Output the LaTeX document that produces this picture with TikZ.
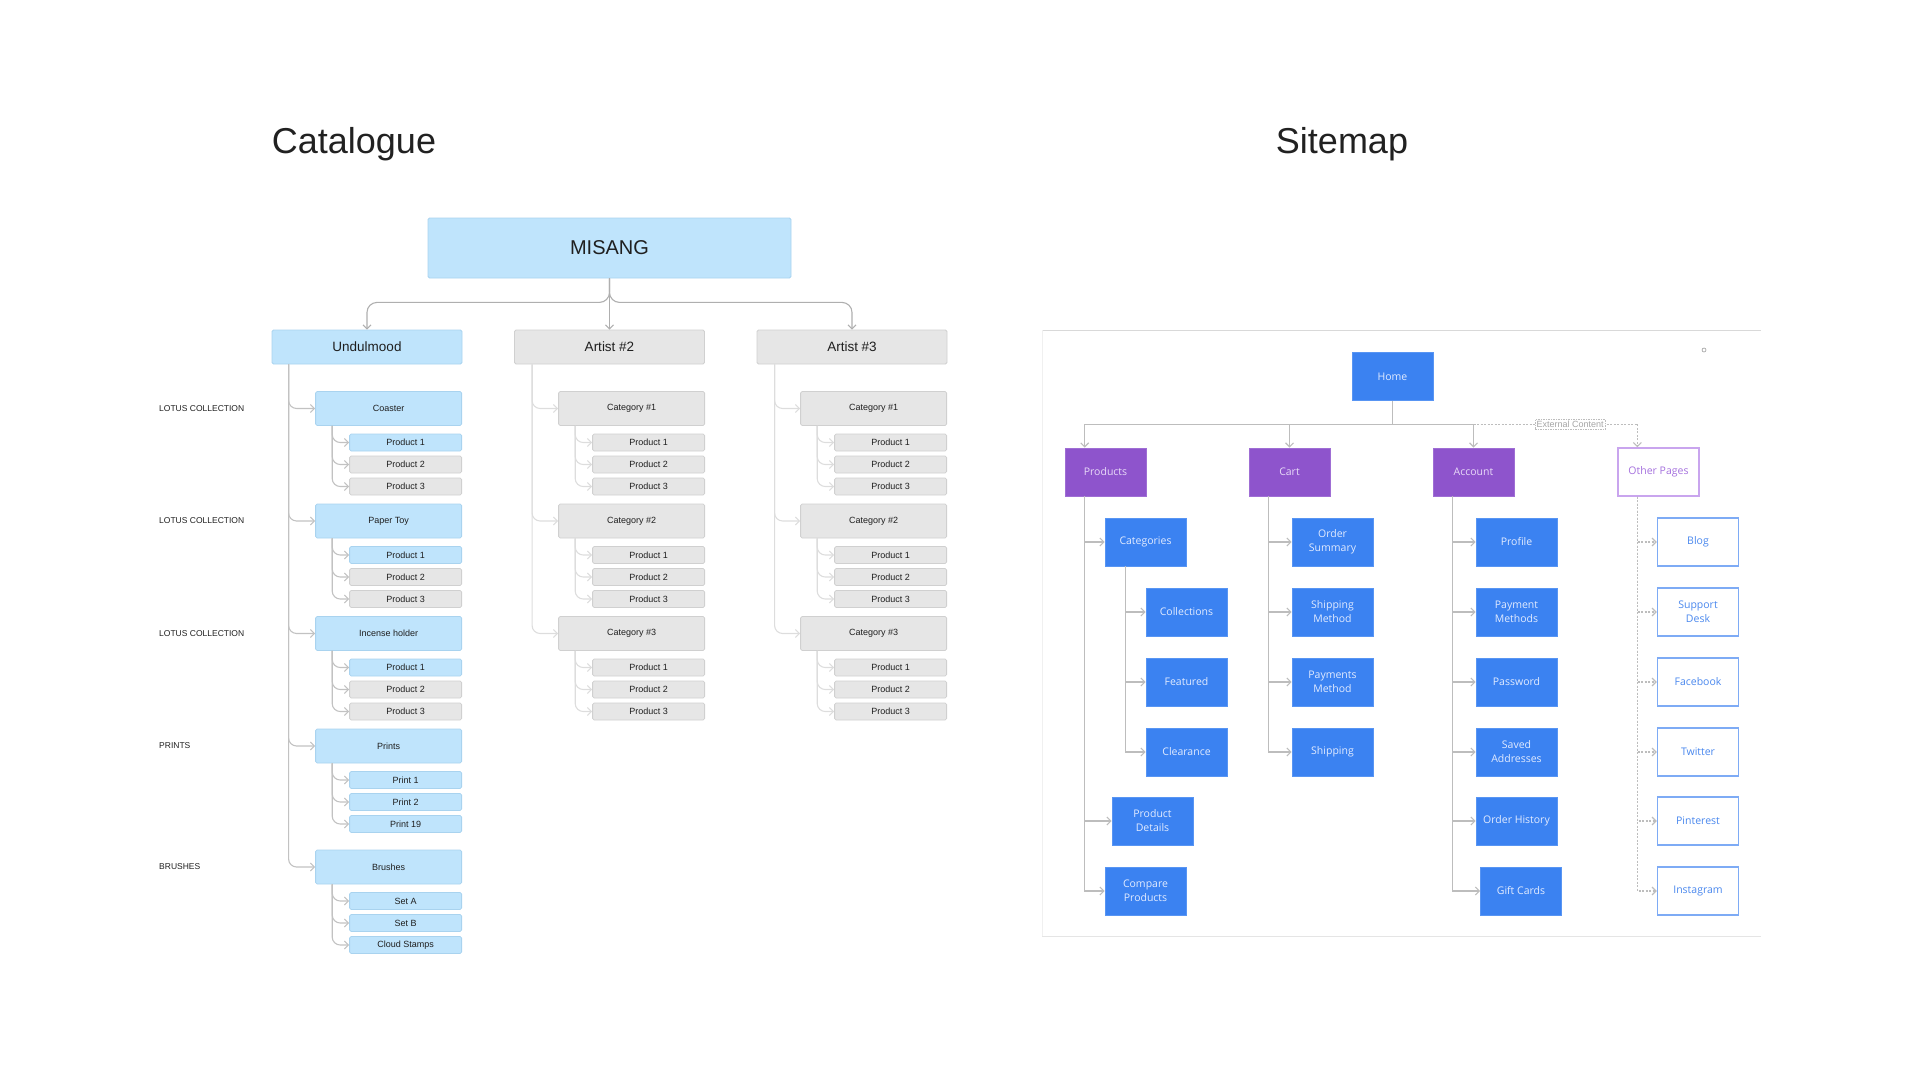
\documentclass[tikz,border=0pt]{standalone}
\usepackage{fontspec}
\setmainfont{Liberation Sans}
\newfontfamily\sitefont{Open Sans}
\usetikzlibrary{arrows.meta, calc}

\definecolor{catblue}{HTML}{BFE4FC}
\definecolor{catblueline}{HTML}{A9D3EF}
\definecolor{catgray}{HTML}{E6E6E6}
\definecolor{catgrayline}{HTML}{D0D0D0}
\definecolor{linkgray}{HTML}{C2C2C2}
\definecolor{linklight}{HTML}{DDDDDD}
\definecolor{siteblue}{HTML}{3B82F1}
\definecolor{sitebluetext}{HTML}{E2EBFF}
\definecolor{sitepurple}{HTML}{8E54CC}
\definecolor{sitepurpletext}{HTML}{E8DAF8}
\definecolor{otherpurple}{HTML}{C9A5EE}
\definecolor{otherpurpletext}{HTML}{A571DE}
\definecolor{extblue}{HTML}{7EABF5}
\definecolor{extbluetext}{HTML}{4A88EE}
\definecolor{sitegray}{HTML}{BDBDBD}

\begin{document}
\begin{tikzpicture}[x=1pt, y=-1pt,
    title/.style={font=\fontsize{36}{40}\selectfont, text=black!87},
    box/.style={rectangle, rounded corners=1.5pt, inner sep=0pt, text=black!88, line width=0.8pt},
    bluebox/.style={box, fill=catblue, draw=catblueline},
    graybox/.style={box, fill=catgray, draw=catgrayline},
    artistbox/.style={minimum width=190pt, minimum height=34pt, font=\fontsize{13.5}{16}\selectfont},
    catbox/.style={minimum width=146pt, minimum height=34pt, anchor=east, font=\fontsize{9}{11}\selectfont},
    prodbox/.style={minimum width=112pt, minimum height=17pt, anchor=east, font=\fontsize{9}{11}\selectfont},
    lotus/.style={anchor=west, inner sep=0pt, font=\fontsize{8.5}{10}\selectfont, text=black!88},
    link/.style={draw=linkgray, line width=1.1pt, rounded corners=8pt, -{Straight Barb[length=4pt,width=8pt]}},
    lightlink/.style={link, draw=linklight},
    sitebox/.style={rectangle, minimum width=81pt, minimum height=48pt, inner sep=0pt, align=center,
        font=\sitefont\fontsize{10.5}{14}\selectfont},
    pagebox/.style={sitebox, fill=siteblue, draw=siteblue!85!white, line width=0.6pt, text=sitebluetext},
    sectionbox/.style={sitebox, fill=sitepurple, draw=sitepurple!85!white, line width=0.6pt, text=sitepurpletext},
    otherbox/.style={sitebox, fill=white, draw=otherpurple, line width=1.3pt, text=otherpurpletext},
    extbox/.style={sitebox, fill=white, draw=extblue, line width=1.3pt, text=extbluetext},
    slink/.style={draw=sitegray, line width=1.2pt, -{Straight Barb[length=4pt,width=8pt]}},
    dlink/.style={slink, dash pattern=on 2pt off 1.5pt},
    extlabel/.style={fill=white, draw=sitegray, dash pattern=on 1.5pt off 1pt, line width=0.6pt,
        inner sep=1.5pt, font=\fontsize{9}{10}\selectfont, text=black!35}]
\useasboundingbox (0,0) rectangle (1920,1080);

\node[title] (cattitle) at (354,144) {Catalogue};
\node[title] (sitetitle) at (1342,144) {Sitemap};

\node[bluebox, minimum width=363pt, minimum height=60pt, font=\fontsize{20}{24}\selectfont] (misang) at (609.5,248) {MISANG};
\node[bluebox, artistbox] (undulmood) at (367,347) {Undulmood};
\node[graybox, artistbox] (artist2) at (609.5,347) {Artist \#2};
\node[graybox, artistbox] (artist3) at (852,347) {Artist \#3};
\draw[link, draw=linkgray!90!black, rounded corners=10pt] (misang.south) -- ++(0,24) -| (undulmood.north);
\draw[link, draw=linkgray!90!black] (misang.south) -- (artist2.north);
\draw[link, draw=linkgray!90!black, rounded corners=10pt] (misang.south) -- ++(0,24) -| (artist3.north);

\foreach \n/\t/\y/\l/\ta/\tb/\tc/\s in {
    coaster/Coaster/408.5/LOTUS COLLECTION/Product 1/Product 2/Product 3/graybox,
    papertoy/Paper Toy/521/LOTUS COLLECTION/Product 1/Product 2/Product 3/graybox,
    incense/Incense holder/633.5/LOTUS COLLECTION/Product 1/Product 2/Product 3/graybox,
    prints/Prints/746/PRINTS/Print 1/Print 2/Print 19/bluebox,
    brushes/Brushes/867/BRUSHES/Set A/Set B/Cloud Stamps/bluebox} {
  \node[lotus] (\n-label) at (159,\y) {\l};
  \node[bluebox, catbox] (\n) at (462,\y) {\t};
  \node[bluebox, prodbox] (\n-1) at (462,\y+34) {\ta};
  \node[\s, prodbox] (\n-2) at (462,\y+56) {\tb};
  \node[\s, prodbox] (\n-3) at (462,\y+78) {\tc};
  \draw[link] ([xshift=17pt]undulmood.south west) |- (\n.west);
  \foreach \k in {1,2,3}
    \draw[link] ([xshift=17pt]\n.south west) |- (\n-\k.west);
}

\foreach \a/\r in {2/705, 3/947} {
  \foreach \c/\y in {1/408.5, 2/521, 3/633.5} {
    \node[graybox, catbox] (a\a-c\c) at (\r,\y) {Category \#\c};
    \draw[lightlink] ([xshift=18pt]artist\a.south west) |- (a\a-c\c.west);
    \foreach \p/\d in {1/34, 2/56, 3/78} {
      \node[graybox, prodbox] (a\a-c\c-p\p) at (\r,\y+\d) {Product \p};
      \draw[lightlink] ([xshift=17pt]a\a-c\c.south west) |- (a\a-c\c-p\p.west);
    }
  }
}

\draw[draw=black!15, line width=1pt] (1042,330) -- (1761,330);
\draw[draw=black!10, line width=1pt] (1042,936) -- (1761,936);
\draw[draw=black!6, line width=1pt] (1042,330) -- (1042,936);
\draw[draw=black!40, line width=0.6pt] (1704,350) circle (2pt);

\node[pagebox] (home) at (1392.5,376.5) {Home};
\node[sectionbox] (products) at (1105.5,472) {Products};
\node[sectionbox] (cart) at (1289.5,472) {Cart};
\node[sectionbox] (account) at (1473.5,472) {Account};
\node[otherbox] (other) at (1658.5,472) {Other Pages};
\path (home.south) ++(0,23.5) coordinate (bus);
\draw[slink] (home.south) -- (bus) -| ([xshift=20pt]products.north west);
\draw[slink] (home.south) -- (bus) -| (cart.north);
\draw[slink] (home.south) -- (bus) -| (account.north);
\draw[dlink, -] (account.north |- bus) -- node[extlabel, pos=0.59] (extcontent) {External Content} ([xshift=20pt]other.north west |- bus);
\draw[dlink] ([xshift=20pt]other.north west |- bus) -- ([xshift=20pt]other.north west);

\node[pagebox] (categories) at (1145.5,542) {Categories};
\node[pagebox] (productdetails) at (1152.5,821) {Product\\Details};
\node[pagebox] (compare) at (1145.5,891) {Compare\\Products};
\foreach \n in {categories, productdetails, compare}
  \draw[slink] ([xshift=20pt]products.south west) |- (\n.west);
\foreach \n/\t/\y in {collections/Collections/612, featured/Featured/682, clearance/Clearance/752} {
  \node[pagebox] (\n) at (1186.5,\y) {\t};
  \draw[slink] ([xshift=21pt]categories.south west) |- (\n.west);
}

\foreach \n/\t/\y in {ordersummary/Order\\Summary/542, shippingmethod/Shipping\\Method/612,
    paymentsmethod/Payments\\Method/682, shipping/Shipping/752} {
  \node[pagebox] (\n) at (1332.5,\y) {\t};
  \draw[slink] ([xshift=20pt]cart.south west) |- (\n.west);
}

\foreach \n/\t/\x/\y in {profile/Profile/1516.5/542, paymentmethods/Payment\\Methods/1516.5/612,
    password/Password/1516.5/682, savedaddresses/Saved\\Addresses/1516.5/752,
    orderhistory/Order History/1516.5/821, giftcards/Gift Cards/1521/891} {
  \node[pagebox] (\n) at (\x,\y) {\t};
  \draw[slink] ([xshift=20pt]account.south west) |- (\n.west);
}

\foreach \n/\t/\y in {blog/Blog/542, supportdesk/Support\\Desk/612, facebook/Facebook/682,
    twitter/Twitter/752, pinterest/Pinterest/821, instagram/Instagram/891} {
  \node[extbox] (\n) at (1698,\y) {\t};
  \draw[dlink] ([xshift=20pt]other.south west) |- (\n.west);
}
\end{tikzpicture}
\end{document}
